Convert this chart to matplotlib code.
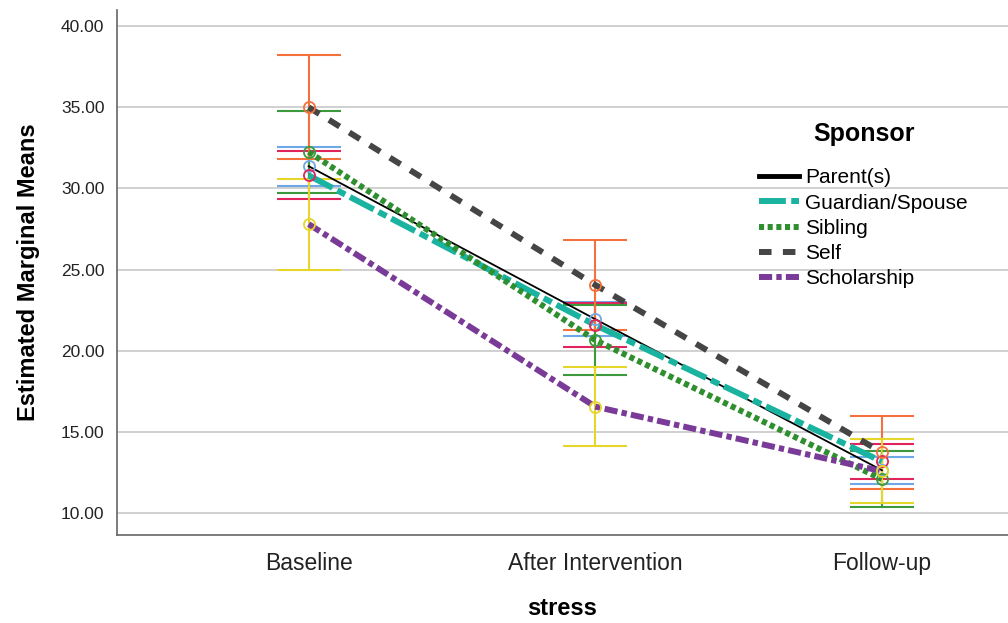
import matplotlib.pyplot as plt
import numpy as np

plt.rcParams.update({
    "font.family": ["Liberation Sans", "DejaVu Sans"],
})

# --- ADATOK ---
stages = ["Baseline", "After Intervention", "Follow-up"]
sponsors = ["Parent(s)", "Guardian/Spouse", "Sibling", "Self", "Scholarship"]

parent = [31.37, 21.94, 12.63]
guardian = [30.80, 21.58, 13.17]
sibling = [32.25, 20.65, 12.08]
self_ = [35.00, 24.05, 13.73]
scholarship = [27.80, 16.55, 12.57]

parent_err = [1.20, 1.04, 0.84]
guardian_err = [1.48, 1.33, 1.07]
sibling_err = [2.52, 2.15, 1.73]
self_err = [3.20, 2.77, 2.27]
scholarship_err = [2.80, 2.42, 1.97]

means = [parent, guardian, sibling, self_, scholarship]
errs = [parent_err, guardian_err, sibling_err, self_err, scholarship_err]

line_colors = ["#000000", "#1ab3a0", "#2f8f2f", "#454545", "#7a3b98"]
bar_colors = ["#6fa8e6", "#e0245c", "#3c9a3c", "#f4703c", "#e6d62a"]
line_styles = ["-", (0, (4.5, 0.9, 1.5, 0.9)), (0, (0.85, 0.6)), (0, (2.1, 1.9)), (0, (2.2, 0.7, 0.9, 0.7))]
line_widths = [1.3, 4.3, 4.3, 4.3, 4.3]

x = np.arange(len(stages))

fig = plt.figure(figsize=(10.08, 6.23), dpi=100)
ax = fig.add_axes([0.116, 0.1413, 0.884, 0.8427])

# hibasávok
for m, e, c in zip(means, errs, bar_colors):
    ax.errorbar(x, m, yerr=e, fmt="none", ecolor=c, elinewidth=1.5,
                capsize=23, capthick=1.5, zorder=2)

# vonalak
for m, lab, c, ls, lw in zip(means, sponsors, line_colors, line_styles, line_widths):
    ax.plot(x, m, color=c, linestyle=ls, linewidth=lw, label=lab, zorder=3,
            dash_capstyle="butt")

# körök
for m, c in zip(means, bar_colors):
    ax.plot(x, m, "o", markerfacecolor="none", markeredgecolor=c,
            markersize=8, markeredgewidth=1.3, zorder=4)

ax.set_xlim(-0.669, 2.44)
ax.set_ylim(8.64, 41.0)
ax.set_xticks(x)
ax.set_xticklabels(stages, fontsize=16.5, color="#222222")
ax.set_yticks([10, 15, 20, 25, 30, 35, 40])
ax.set_yticklabels(["%.2f" % v for v in [10, 15, 20, 25, 30, 35, 40]], fontsize=12.5,
                   color="#222222")
ax.tick_params(axis="x", length=0, pad=12)
ax.tick_params(axis="y", length=0, pad=9)
ax.grid(True, axis="y", color="#c8c8c8", linewidth=1.2)
ax.set_axisbelow(True)
for s in ["top", "right"]:
    ax.spines[s].set_visible(False)
ax.spines["left"].set_color("#666666")
ax.spines["bottom"].set_color("#666666")
ax.spines["left"].set_linewidth(1.2)
ax.spines["bottom"].set_linewidth(1.2)

ax.set_xlabel("stress", fontsize=17, fontweight="bold", labelpad=16)
ax.set_ylabel("Estimated Marginal Means", fontsize=17, fontweight="bold", labelpad=15)

leg = ax.legend(loc="upper left", bbox_to_anchor=(0.70, 0.822), frameon=False,
                title="Sponsor", fontsize=15, handlelength=1.9, handletextpad=0.3,
                labelspacing=0.3)
leg.get_title().set_fontweight("bold")
leg.get_title().set_fontsize(18)
leg._legend_box.sep = 16
leg.get_lines()[0].set_linewidth(3.5)

fig.savefig("out.png", dpi=100)
